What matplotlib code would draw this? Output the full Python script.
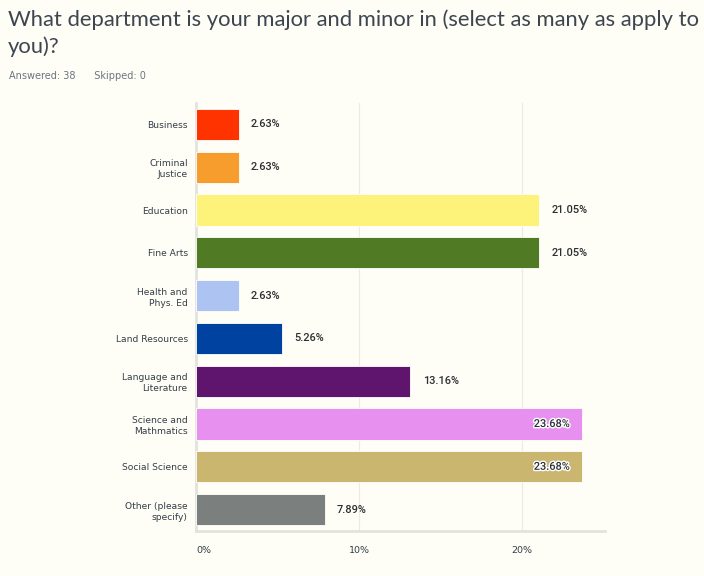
import matplotlib
matplotlib.use("Agg")
import matplotlib.pyplot as plt
import matplotlib.patheffects as pe

categories = ["Business", "Criminal\nJustice", "Education", "Fine Arts",
              "Health and\nPhys. Ed", "Land Resources", "Language and\nLiterature",
              "Science and\nMathmatics", "Social Science", "Other (please\nspecify)"]
values = [2.63, 2.63, 21.05, 21.05, 2.63, 5.26, 13.16, 23.68, 23.68, 7.89]
colors = ["#ff3300", "#f79d2e", "#fef37a", "#507a24", "#adc4f3",
          "#0042a0", "#5f146e", "#e790f0", "#cbb670", "#7b7f7e"]
xticks = [0, 10, 20]
xticklabels = ["0%", "10%", "20%"]

bg = "#fefdf6"
fig = plt.figure(figsize=(7.04, 5.76), dpi=100, facecolor=bg)
ax = fig.add_axes([196/704, 45/576, (605-196)/704, (531-103)/576])
ax.set_facecolor(bg)

ypos = list(range(len(categories)))
ax.barh(ypos, values, height=0.73, color=colors, edgecolor="#ffffff",
        linewidth=0.6, zorder=3)
ax.set_ylim(len(categories) - 0.5, -0.5)
ax.set_xlim(0, 25.1)

for y, v in zip(ypos, values):
    label = f"{v:.2f}%"
    if v > 22:
        ax.text(v - 0.75, y, label, ha="right", va="center", fontsize=7.9,
                color="#2b2f33", zorder=4, family="Roboto", weight="medium",
                path_effects=[pe.withStroke(linewidth=2, foreground="white")])
    else:
        ax.text(v + 0.75, y, label, ha="left", va="center", fontsize=7.9,
                color="#2b2f33", zorder=4, family="Roboto", weight="medium")

ax.set_yticks(ypos)
ax.set_yticklabels(categories, fontsize=6.6, color="#333e48", linespacing=1.3)
ax.set_xticks(xticks)
ax.set_xticklabels(xticklabels, fontsize=6.8, color="#333e48")
xl = ax.get_xticklabels()
xl[0].set_horizontalalignment("left")
ax.tick_params(axis="both", length=0)
ax.tick_params(axis="y", pad=6)
ax.tick_params(axis="x", pad=11)
ax.xaxis.grid(True, color="#ebebe6", linewidth=0.8, zorder=0)
for s in ["top", "right"]:
    ax.spines[s].set_visible(False)
for s in ["left", "bottom"]:
    ax.spines[s].set_color("#e3e3de")
    ax.spines[s].set_linewidth(2)

fig.text(8/704, 1 - 20/576, "What department is your major and minor in (select as many as apply to",
         fontsize=15.8, color="#3d4650", va="center", ha="left", family="Lato")
fig.text(8/704, 1 - 47/576, "you)?", fontsize=15.8, color="#3d4650", va="center",
         ha="left", family="Lato")
fig.text(9/704, 1 - 76/576, "Answered: 38      Skipped: 0", fontsize=7, color="#6b7580",
         va="center", ha="left")

fig.savefig("out.png", dpi=100, facecolor=bg)
